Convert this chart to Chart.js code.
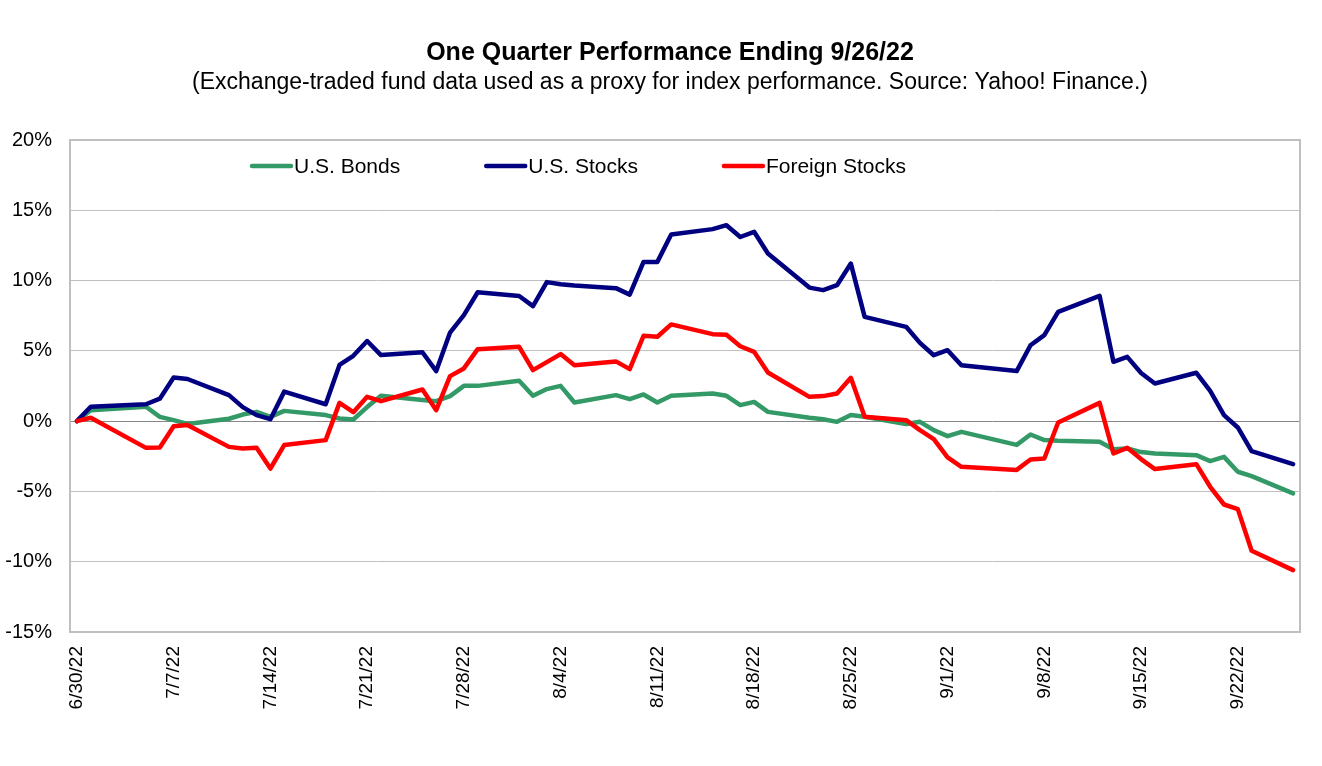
<!DOCTYPE html>
<html>
<head>
<meta charset="utf-8">
<title>One Quarter Performance Ending 9/26/22</title>
<script src="https://cdn.jsdelivr.net/npm/chart.js@4/dist/chart.umd.min.js"></script>
<style>
  body { margin: 0; background: #fff; }
  canvas { display: block; }
</style>
</head>
<body>
<canvas id="perfChart" width="1322" height="766"></canvas>
<script>
// trading days of the quarter
const tradeDates = [
  '2022-06-30', '2022-07-01', '2022-07-05', '2022-07-06', '2022-07-07', '2022-07-08',
  '2022-07-11', '2022-07-12', '2022-07-13', '2022-07-14', '2022-07-15',
  '2022-07-18', '2022-07-19', '2022-07-20', '2022-07-21', '2022-07-22',
  '2022-07-25', '2022-07-26', '2022-07-27', '2022-07-28', '2022-07-29',
  '2022-08-01', '2022-08-02', '2022-08-03', '2022-08-04', '2022-08-05',
  '2022-08-08', '2022-08-09', '2022-08-10', '2022-08-11', '2022-08-12',
  '2022-08-15', '2022-08-16', '2022-08-17', '2022-08-18', '2022-08-19',
  '2022-08-22', '2022-08-23', '2022-08-24', '2022-08-25', '2022-08-26',
  '2022-08-29', '2022-08-30', '2022-08-31', '2022-09-01', '2022-09-02',
  '2022-09-06', '2022-09-07', '2022-09-08', '2022-09-09',
  '2022-09-12', '2022-09-13', '2022-09-14', '2022-09-15', '2022-09-16',
  '2022-09-19', '2022-09-20', '2022-09-21', '2022-09-22', '2022-09-23',
  '2022-09-26'
];

// % change since 6/30/22
const usBonds = [
  0, 0.78, 1.02, 0.3, 0.07, -0.2,
  0.17, 0.47, 0.66, 0.3, 0.73,
  0.43, 0.19, 0.12, 1.0, 1.8,
  1.5, 1.42, 1.78, 2.51, 2.51,
  2.87, 1.8, 2.28, 2.51, 1.33,
  1.85, 1.56, 1.9, 1.33, 1.8,
  1.97, 1.8, 1.14, 1.37, 0.66,
  0.24, 0.14, -0.05, 0.43, 0.31,
  -0.21, -0.05, -0.64, -1.07, -0.76,
  -1.69, -0.95, -1.35, -1.4,
  -1.47, -2.0, -1.94, -2.2, -2.3,
  -2.42, -2.84, -2.54, -3.6, -3.91,
  -5.14
];

const usStocks = [
  0, 1.02, 1.2, 1.6, 3.1, 3.0,
  1.85, 1.0, 0.43, 0.14, 2.1,
  1.2, 4.0, 4.65, 5.7, 4.7,
  4.9, 3.56, 6.3, 7.54, 9.17,
  8.9, 8.18, 9.89, 9.74, 9.65,
  9.46, 9.0, 11.33, 11.33, 13.28,
  13.66, 13.94, 13.1, 13.47, 11.93,
  9.5, 9.32, 9.67, 11.21, 7.42,
  6.71, 5.57, 4.69, 5.05, 3.98,
  3.56, 5.4, 6.12, 7.78,
  8.91, 4.22, 4.57, 3.42, 2.68,
  3.44, 2.16, 0.43, -0.45, -2.13,
  -3.06
];

const foreignStocks = [
  0, 0.24, -1.9, -1.87, -0.36, -0.28,
  -1.83, -1.94, -1.9, -3.37, -1.7,
  -1.35, 1.3, 0.64, 1.73, 1.42,
  2.25, 0.78, 3.2, 3.75, 5.12,
  5.29, 3.63, 4.2, 4.77, 3.98,
  4.25, 3.7, 6.07, 6.0, 6.88,
  6.19, 6.14, 5.33, 4.93, 3.46,
  1.73, 1.78, 1.97, 3.08, 0.31,
  0.07, -0.64, -1.28, -2.58, -3.25,
  -3.47, -2.73, -2.66, -0.1,
  1.3, -2.3, -1.9, -2.7, -3.41,
  -3.06, -4.67, -5.93, -6.26, -9.22,
  -10.6
];

const seriesNames = ['U.S. Bonds', 'U.S. Stocks', 'Foreign Stocks'];
const seriesColors = ['#339966', '#000080', '#FF0000'];
const tickLabels = ['6/30/22', '7/7/22', '7/14/22', '7/21/22', '7/28/22', '8/4/22', '8/11/22',
  '8/18/22', '8/25/22', '9/1/22', '9/8/22', '9/15/22', '9/22/22'];

const titleText = 'One Quarter Performance Ending 9/26/22';
const subtitleText = '(Exchange-traded fund data used as a proxy for index performance. Source: Yahoo! Finance.)';

const FONT = "'Liberation Sans', Arial, sans-serif";

// days since the first date -> x value
const DAY = 86400000;
const t0 = Date.parse(tradeDates[0]);
const dayIndex = tradeDates.map(d => Math.round((Date.parse(d) - t0) / DAY));
const lastDay = dayIndex[dayIndex.length - 1];

function toPoints(vals) {
  return vals.map((v, i) => ({ x: dayIndex[i], y: v }));
}

// title, subtitle, frame and legend drawn by hand (Excel-like placement)
const excelLook = {
  id: 'excelLook',
  beforeDatasetsDraw(chart) {
    const { ctx, chartArea: a } = chart;
    ctx.save();
    ctx.strokeStyle = '#BFBFBF';
    ctx.lineWidth = 2;
    ctx.strokeRect(a.left, a.top, a.right - a.left, a.bottom - a.top);
    ctx.restore();
  },
  afterDraw(chart) {
    const ctx = chart.ctx;
    ctx.save();
    ctx.fillStyle = '#000';
    ctx.textAlign = 'center';
    ctx.textBaseline = 'alphabetic';
    ctx.font = 'bold 25px ' + FONT;
    ctx.fillText(titleText, 670, 60);
    ctx.font = '23px ' + FONT;
    ctx.fillText(subtitleText, 670, 89);

    // legend
    ctx.textAlign = 'left';
    ctx.font = '21px ' + FONT;
    let x = 250;
    seriesNames.forEach((name, i) => {
      ctx.strokeStyle = seriesColors[i];
      ctx.lineWidth = 4.5;
      ctx.lineCap = 'round';
      ctx.beginPath();
      ctx.moveTo(x + 2, 166);
      ctx.lineTo(x + 41, 166);
      ctx.stroke();
      ctx.fillText(name, x + 44, 173);
      x += 44 + ctx.measureText(name).width + 84;
    });
    ctx.restore();
  }
};

const ctx = document.getElementById('perfChart').getContext('2d');
const perfChart = new Chart(ctx, {
  type: 'line',
  data: {
    datasets: [
      { label: seriesNames[0], data: toPoints(usBonds), borderColor: seriesColors[0], order: 3 },
      { label: seriesNames[1], data: toPoints(usStocks), borderColor: seriesColors[1], order: 2 },
      { label: seriesNames[2], data: toPoints(foreignStocks), borderColor: seriesColors[2], order: 1 }
    ]
  },
  options: {
    responsive: false,
    animation: false,
    layout: { padding: { top: 140, left: 0, right: 22, bottom: 0 } },
    elements: {
      line: { borderWidth: 4.5, tension: 0, borderJoinStyle: 'round', borderCapStyle: 'round', fill: false },
      point: { radius: 0, hoverRadius: 0 }
    },
    plugins: {
      legend: { display: false },
      tooltip: { enabled: false }
    },
    scales: {
      x: {
        type: 'linear',
        min: -0.5,
        max: lastDay + 0.5,
        afterFit: s => { s.height = 134; },
        afterBuildTicks: s => { s.ticks = tickLabels.map((_, i) => ({ value: i * 7 })); },
        grid: { display: false },
        border: { display: false },
        ticks: {
          autoSkip: false,
          minRotation: 90,
          maxRotation: 90,
          padding: 6,
          color: '#000',
          font: { family: FONT, size: 19 },
          callback: v => tickLabels[Math.round(v / 7)]
        }
      },
      y: {
        min: -15,
        max: 20,
        afterFit: s => { s.width = 70; },
        ticks: {
          stepSize: 5,
          padding: 18,
          color: '#000',
          font: { family: FONT, size: 20 },
          callback: v => v + '%'
        },
        grid: {
          drawTicks: false,
          color: c => c.tick.value === 0 ? '#868686' : '#C0C0C0',
          lineWidth: 1
        },
        border: { display: false }
      }
    }
  },
  plugins: [excelLook]
});
</script>
</body>
</html>
